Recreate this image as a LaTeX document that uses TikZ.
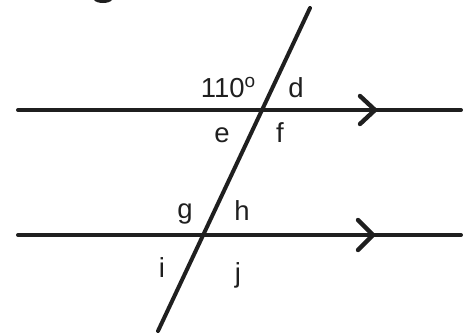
\documentclass[tikz,border=0pt]{standalone}
\usepackage{fontspec}
\setmainfont{Liberation Sans}
\begin{document}
\begin{tikzpicture}[x=1pt,y=-1pt,
  ln/.style={line width=4pt,color=black!88,line cap=round},
  chev/.style={line width=4.4pt,color=black!88,line cap=round,line join=miter},
  lbl/.style={inner sep=0pt,anchor=base,font=\fontsize{27.5}{27.5}\selectfont,text=black!88}]
\useasboundingbox (0,0) rectangle (463,335);
% partial glyph cut off at top
\fill[black!88] (94,0) .. controls (97,4) and (109,4) .. (112,0) -- cycle;
% coordinates
\coordinate (L1a) at (18,110);
\coordinate (L1b) at (461,110);
\coordinate (L2a) at (18,235);
\coordinate (L2b) at (461,235);
\coordinate (Ttop) at (310,8);
\coordinate (Tbot) at (158,331);
\coordinate (C1tip) at (375,110);
\coordinate (C1u) at (360,96);
\coordinate (C1d) at (360,124);
\coordinate (C2tip) at (373,235);
\coordinate (C2u) at (358,220);
\coordinate (C2d) at (358,250);
% lines
\draw[ln] (L1a) -- (L1b);
\draw[ln] (L2a) -- (L2b);
\draw[ln] (Ttop) -- (Tbot);
\draw[chev] (C1u) -- (C1tip) -- (C1d);
\draw[chev] (C2u) -- (C2tip) -- (C2d);
% labels
\node[lbl] (a110) at (228,97) {110\raisebox{9.5pt}{\fontsize{19}{19}\selectfont o}};
\node[lbl] (d) at (296,97) {d};
\node[lbl] (e) at (222,142) {e};
\node[lbl] (f) at (280,142) {f};
\node[lbl] (g) at (185,218) {g};
\node[lbl] (h) at (242,220) {h};
\node[lbl] (i) at (162,277) {i};
\node[lbl] (j) at (238,282) {j};
\end{tikzpicture}
\end{document}
